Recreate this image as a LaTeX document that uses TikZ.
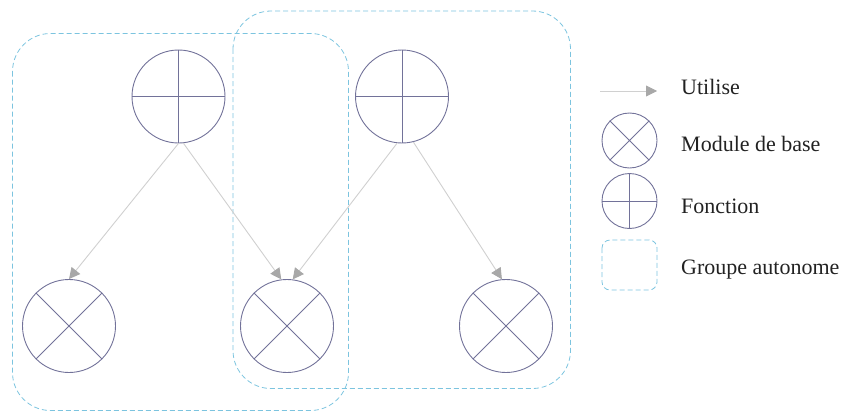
\documentclass[tikz,border=0pt]{standalone}
\usepackage{fontspec}
\setmainfont{Liberation Serif}
\usepackage{xcolor}
\usepackage{tikz}
\usetikzlibrary{arrows.meta,positioning}
\definecolor{circviolet}{HTML}{727299}
\definecolor{groupblue}{HTML}{7CC4DF}
\definecolor{linkgray}{HTML}{D0D0D0}
\definecolor{tipgray}{HTML}{A8A8A8}
\definecolor{inkdark}{HTML}{222222}

\begin{document}
\begin{tikzpicture}[x=1pt,y=-1pt,font=\fontsize{22}{26}\selectfont,
  unit/.style={circle,draw=circviolet,line width=0.9pt,inner sep=0pt,minimum size=#1},
  unit/.default=93pt,
  cross/.style={circviolet,line width=0.9pt},
  groupe/.style={draw=groupblue,line width=0.8pt,dash pattern=on 5pt off 3pt,rounded corners=#1},
  groupe/.default=38pt,
  uses/.style={linkgray,line width=0.9pt,-{Triangle[length=11pt,width=11pt,color=tipgray]}},
  lab/.style={anchor=base west,inkdark,inner sep=0pt}]
\useasboundingbox (0,0) rectangle (853,412);
% autonomous groups
\draw[groupe] (12.5,33.5) rectangle (348.5,410.5);
\draw[groupe] (233,11) rectangle (570.5,388.5);

% functions and base modules
\node[unit] (fa) at (178.5,96.5) {};
\node[unit] (fb) at (402,96.5) {};
\node[unit] (ma) at (69,326) {};
\node[unit] (mb) at (287,326) {};
\node[unit] (mc) at (506,326) {};

% links
\draw[uses] (fa.-90) -- (ma.north);
\draw[uses] (fa.-84) -- (mb.97);
\draw[uses] (fb.-96) -- (mb.83);
\draw[uses] (fb.-76) -- (mc.95);

% legend
\coordinate (lua) at (600,91);
\coordinate (lub) at (657,91);
\draw[uses] (lua) -- (lub);
\node[lab] (tuse) at (681,94) {Utilise};
\node[unit=55pt] (lgm) at (629.5,140.5) {};
\node[lab] (tmod) at (681,151.5) {Module de base};
\node[unit=55pt] (lgf) at (629.5,201) {};
\node[lab] (tfon) at (681,213) {Fonction};
\draw[groupe=8pt] (602,240) rectangle (657,290);
\node[lab] (tgrp) at (681,274) {Groupe autonome};

% node marks
\foreach \n in {fa,fb,lgf}
  \draw[cross] (\n.north) -- (\n.south) (\n.west) -- (\n.east);
\foreach \n in {ma,mb,mc,lgm}
  \draw[cross] (\n.45) -- (\n.225) (\n.135) -- (\n.315);
\end{tikzpicture}
\end{document}
